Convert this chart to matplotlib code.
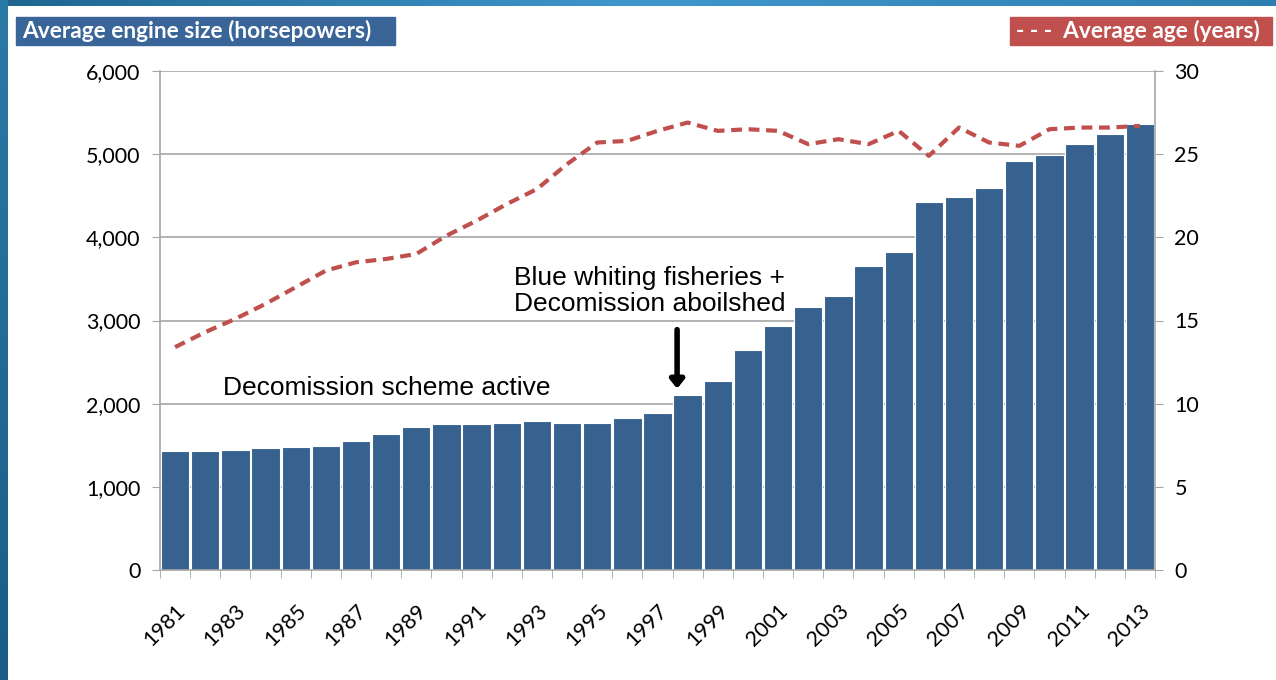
import numpy as np
import matplotlib.pyplot as plt
from matplotlib.colors import LinearSegmentedColormap
from matplotlib.patches import Rectangle

years = list(range(1981, 2014))
engine_hp = [1434, 1434, 1446, 1462, 1474, 1490, 1550, 1634, 1718, 1750,
             1750, 1762, 1790, 1762, 1762, 1830, 1890, 2100, 2276, 2644,
             2937, 3165, 3297, 3654, 3826, 4427, 4487, 4599, 4916, 4984,
             5128, 5244, 5361]
avg_age = [13.4, 14.3, 15.1, 16.0, 17.0, 18.0, 18.5, 18.7, 19.0, 20.1,
           21.0, 22.0, 22.9, 24.4, 25.7, 25.8, 26.4, 26.9, 26.4, 26.5,
           26.4, 25.6, 25.9, 25.6, 26.4, 24.9, 26.6, 25.7, 25.5, 26.5,
           26.6, 26.6, 26.7]
left_ticks = [0, 1000, 2000, 3000, 4000, 5000, 6000]
right_ticks = [0, 5, 10, 15, 20, 25, 30]

BAR = "#37618f"
RED = "#c0504d"
GRID = "#a6a6a6"
TICK_FONT = "Lato"
NOTE_FONT = "Liberation Sans"

fig = plt.figure(figsize=(12.76, 6.8), dpi=100)

# slide frame: gradient strip on top, solid strip on the left
top = fig.add_axes([0, 1 - 6 / 680, 1, 6 / 680])
top.imshow(np.linspace(0, 1, 256).reshape(1, -1), aspect="auto",
           cmap=LinearSegmentedColormap.from_list("frame", ["#1f6590", "#3f97cc", "#2e7fb0"]))
top.set_axis_off()
left = fig.add_axes([0, 0, 8 / 1276, 1])
left.imshow(np.linspace(0, 1, 256).reshape(-1, 1), aspect="auto",
            cmap=LinearSegmentedColormap.from_list("frame2", ["#2a7aa8", "#1a5c86"]))
left.set_axis_off()

ax = fig.add_axes([160 / 1276, 110 / 680, 995 / 1276, 499 / 680])
x = np.arange(len(years))
ax.bar(x, engine_hp, width=0.94, color=BAR, edgecolor="white", linewidth=0.8, zorder=2)
ax.set_xlim(-0.5, len(years) - 0.5)
ax.set_ylim(0, 6000)
ax.set_yticks(left_ticks)
ax.set_yticklabels([f"{v:,}" for v in left_ticks], fontfamily=TICK_FONT, fontsize=15.5)
ax.yaxis.grid(True, color=GRID, linewidth=1.2, zorder=0)
ax.set_axisbelow(True)

# category boundaries get tick marks, labels sit on odd years
ax.set_xticks(x[::2])
ax.set_xticklabels([str(y) for y in years[::2]], rotation=45, ha="right",
                   rotation_mode="anchor", fontfamily=TICK_FONT, fontsize=15.5)
ax.set_xticks(np.arange(-0.5, len(years)), minor=True)
ax.tick_params(axis="x", which="major", length=0, pad=22)
ax.tick_params(axis="x", which="minor", length=6, color=GRID, direction="out")
ax.tick_params(axis="y", length=6, color=GRID, pad=8)
for side in ["top", "right"]:
    ax.spines[side].set_visible(False)
for side in ["left", "bottom"]:
    ax.spines[side].set_color(GRID)
    ax.spines[side].set_linewidth(1.2)

ax2 = ax.twinx()
ax2.plot(x, avg_age, color=RED, linewidth=3, dashes=[2.6, 1.6], zorder=3)
ax2.set_ylim(0, 30)
ax2.set_yticks(right_ticks)
ax2.set_yticklabels([str(v) for v in right_ticks], fontfamily=TICK_FONT, fontsize=15.5)
ax2.tick_params(axis="y", length=6, color=GRID, pad=8)
for side in ["top", "left", "bottom"]:
    ax2.spines[side].set_visible(False)
ax2.spines["right"].set_color(GRID)
ax2.spines["right"].set_linewidth(1.2)

# series headers as coloured boxes
fig.patches.append(Rectangle((16 / 1276, 1 - 45 / 680), 379 / 1276, 28 / 680,
                             transform=fig.transFigure, color="#3a6598", zorder=0))
fig.text(22 / 1276, 1 - 31 / 680, "Average engine size (horsepowers)", color="white",
         fontweight="bold", fontsize=16.3, fontfamily=TICK_FONT, va="center", ha="left")
fig.patches.append(Rectangle((1010 / 1276, 1 - 45 / 680), 262 / 1276, 28 / 680,
                             transform=fig.transFigure, color=RED, zorder=0))
fig.text(1016 / 1276, 1 - 31 / 680, "- - -  Average age (years)", color="white",
         fontweight="bold", fontsize=16.3, fontfamily=TICK_FONT, va="center", ha="left")

# annotations
ax.text(1.6, 2190, "Decomission scheme active", fontfamily=NOTE_FONT, fontsize=19,
        va="center", ha="left")
ax.text(11.25, 3350, "Blue whiting fisheries +\nDecomission aboilshed", fontfamily=NOTE_FONT,
        fontsize=19, va="center", ha="left", linespacing=1.1)
ax.annotate("", xy=(16.65, 2180), xytext=(16.65, 2890),
            arrowprops=dict(arrowstyle="-|>,head_width=0.4,head_length=0.5",
                            color="black", lw=4, shrinkA=0, shrinkB=0))

fig.savefig("out.png", dpi=100)
